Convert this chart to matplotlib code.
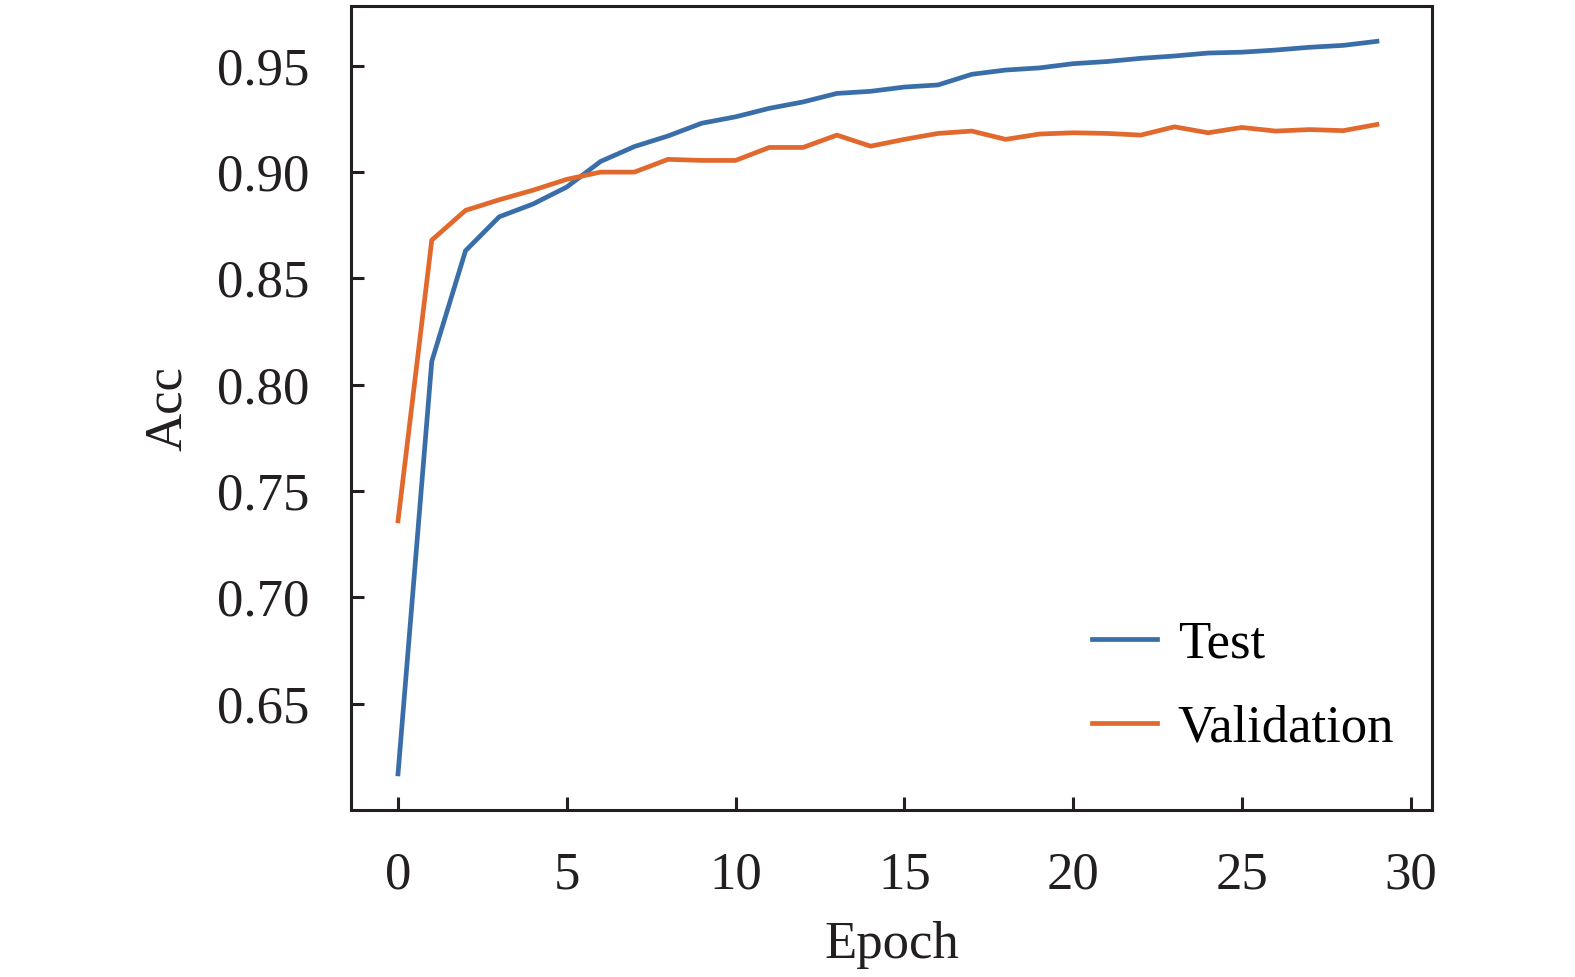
import matplotlib
matplotlib.use('Agg')
import matplotlib.pyplot as plt


# accuracy per epoch
epochs = list(range(30))
test_acc = [0.617, 0.811, 0.863, 0.879, 0.885, 0.893, 0.905, 0.912, 0.917, 0.923,
            0.926, 0.930, 0.933, 0.937, 0.938, 0.940, 0.941, 0.946, 0.948, 0.949,
            0.951, 0.952, 0.9535, 0.9546, 0.956, 0.9564, 0.9574, 0.9587, 0.9596, 0.9615]
val_acc = [0.736, 0.868, 0.882, 0.887, 0.8915, 0.8966, 0.900, 0.900, 0.906, 0.9055,
           0.9055, 0.9116, 0.9116, 0.9174, 0.9122, 0.9154, 0.9182, 0.9193, 0.9154, 0.9179,
           0.9185, 0.9182, 0.9174, 0.9213, 0.9185, 0.921, 0.9193, 0.920, 0.9195, 0.9224]

yticks = [0.65, 0.70, 0.75, 0.80, 0.85, 0.90, 0.95]
xticks = [0, 5, 10, 15, 20, 25, 30]

plt.rcParams['font.family'] = ['Liberation Serif', 'DejaVu Serif']
fs = 38

fig = plt.figure(figsize=(15.75, 9.77), dpi=100)
ax = fig.add_axes([0.2227, 0.1709, 0.6867, 0.8227])

ax.plot(epochs, test_acc, color='#3a6ea9', lw=3.4, label='Test')
ax.plot(epochs, val_acc, color='#e2692e', lw=3.4, label='Validation')

ax.set_xlim(-1.4, 30.64)
ax.set_ylim(0.600, 0.978)
ax.set_xticks(xticks)
ax.set_yticks(yticks)
ax.set_yticklabels(['%.2f' % v for v in yticks])
ax.tick_params(direction='in', length=9.6, width=2.2, labelsize=fs, pad=30,
               color='#231f20', labelcolor='#231f20')
for s in ax.spines.values():
    s.set_linewidth(2.2)
    s.set_color('#231f20')

ax.set_xlabel('Epoch', fontsize=fs, color='#231f20', labelpad=15)
ax.set_ylabel('Acc', fontsize=fs, color='#231f20', labelpad=18)

ax.legend(loc='upper left', bbox_to_anchor=(0.6855, 0.2355), frameon=False,
          fontsize=fs, handlelength=1.22, handletextpad=0.4, labelspacing=0.67,
          borderpad=0, borderaxespad=0)

fig.savefig('out.png', dpi=100)
